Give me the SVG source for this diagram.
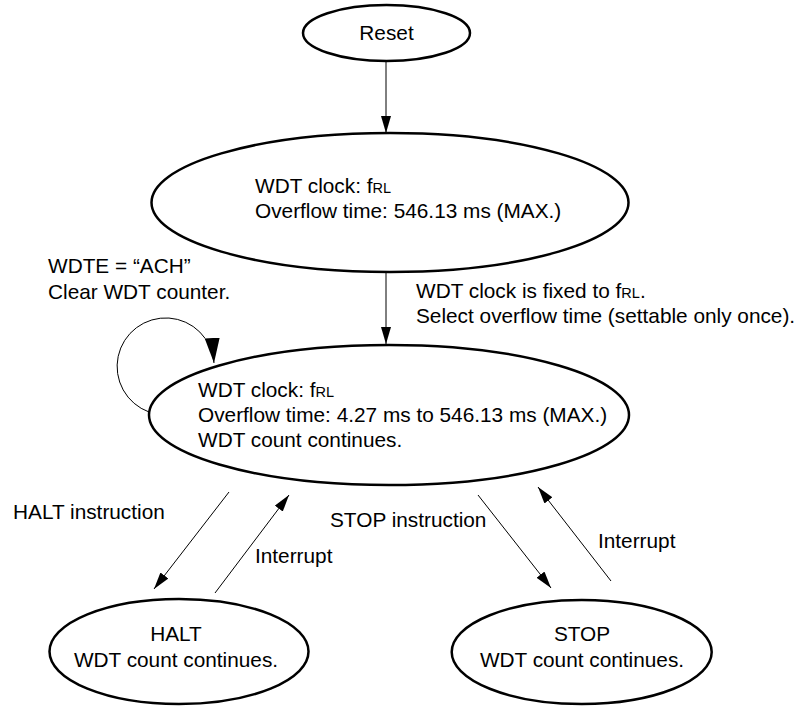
<svg xmlns="http://www.w3.org/2000/svg" width="806" height="706" viewBox="0 0 806 706">
<style>
  text { font-family: "Liberation Sans", Arial, Helvetica, sans-serif; font-size: 20.8px; fill: #000; }
  .node { fill: #fff; stroke: #000; stroke-width: 2.5; }
  .edge { fill: none; stroke: #000; stroke-width: 1; }
  .sub { font-size: 14.5px; }
  .c { text-anchor: middle; }
</style>
<defs>
  <marker id="arr" markerUnits="userSpaceOnUse" markerWidth="18" markerHeight="12" refX="17" refY="5" orient="auto">
    <path d="M0,0 L17,5 L0,10 Z" fill="#000"/>
  </marker>
  <marker id="arrBig" markerUnits="userSpaceOnUse" markerWidth="26" markerHeight="18" refX="25" refY="7.5" orient="auto">
    <path d="M0,0 L25,7.5 L0,15 Z" fill="#000"/>
  </marker>
</defs>

<g id="connectors">
  <path class="edge" d="M386,61 L386,133" marker-end="url(#arr)"/>
  <path class="edge" d="M386,272 L386,344" marker-end="url(#arr)"/>
  <path class="edge" d="M149,412 A48.5,48.5 0 1 1 214,363" marker-end="url(#arrBig)"/>
  <path class="edge" d="M229,492 L154,589" marker-end="url(#arr)"/>
  <path class="edge" d="M215,593 L289,495" marker-end="url(#arr)"/>
  <path class="edge" d="M478,495 L551,588" marker-end="url(#arr)"/>
  <path class="edge" d="M611,581 L538,487" marker-end="url(#arr)"/>
</g>

<g id="labels">
  <text x="48" y="273">WDTE = “ACH”</text>
  <text x="48" y="299">Clear WDT counter.</text>
  <text x="416" y="298">WDT clock is fixed to f<tspan class="sub">RL</tspan>.</text>
  <text x="416" y="323">Select overflow time (settable only once).</text>
  <text x="13" y="519">HALT instruction</text>
  <text x="255" y="563">Interrupt</text>
  <text x="330" y="527">STOP instruction</text>
  <text x="598" y="548">Interrupt</text>
</g>

<g id="reset">
  <ellipse class="node" cx="386.5" cy="33" rx="83.5" ry="28"/>
  <text class="c" x="386.5" y="40">Reset</text>
</g>

<g id="wdt-initial">
  <ellipse class="node" cx="390" cy="202.5" rx="238.5" ry="69.5"/>
  <text x="255" y="193">WDT clock: f<tspan class="sub">RL</tspan></text>
  <text x="255" y="218">Overflow time: 546.13 ms (MAX.)</text>
</g>

<g id="wdt-running">
  <ellipse class="node" cx="389" cy="415" rx="240" ry="70"/>
  <text x="198" y="397">WDT clock: f<tspan class="sub">RL</tspan></text>
  <text x="198" y="422">Overflow time: 4.27 ms to 546.13 ms (MAX.)</text>
  <text x="198" y="447">WDT count continues.</text>
</g>

<g id="halt">
  <ellipse class="node" cx="179" cy="651.5" rx="129.5" ry="52.5"/>
  <text class="c" x="176" y="641">HALT</text>
  <text class="c" x="176" y="667">WDT count continues.</text>
</g>

<g id="stop">
  <ellipse class="node" cx="581.7" cy="652" rx="130" ry="52"/>
  <text class="c" x="582" y="641">STOP</text>
  <text class="c" x="582" y="667">WDT count continues.</text>
</g>
</svg>
